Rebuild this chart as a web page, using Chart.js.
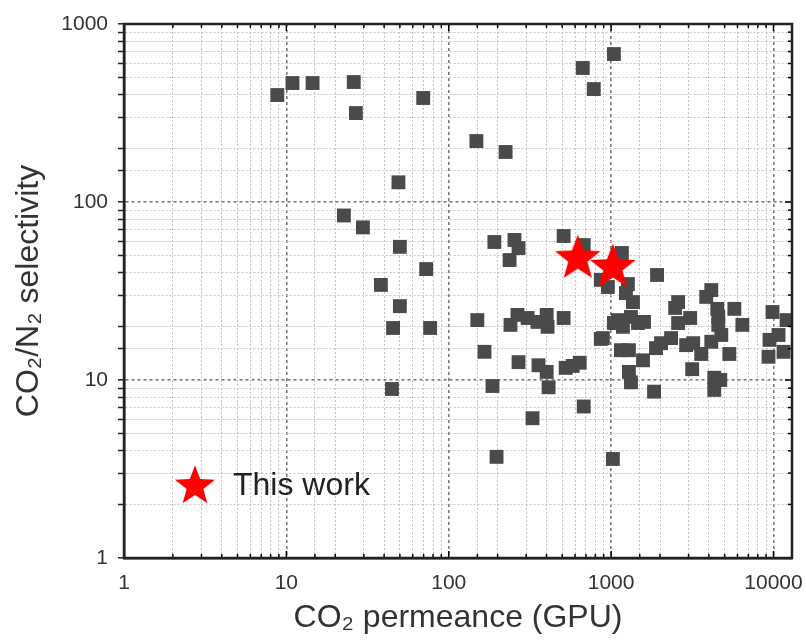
<!DOCTYPE html>
<html>
<head>
<meta charset="utf-8">
<script src="https://cdn.jsdelivr.net/npm/chart.js@4"></script>
<style>
  html, body { margin: 0; padding: 0; background: #fff; }
  #wrap { width: 806px; height: 641px; }
</style>
</head>
<body>
<div id="wrap"><canvas id="chart" width="806" height="641"></canvas></div>
<script>
// Literature membranes: CO2 permeance (GPU) vs CO2/N2 selectivity
const litPermeance = [
  8.8, 10.9, 14.5, 26, 26.8, 69.6, 148, 224, 49, 22.6, 29.6, 38.2, 50, 50, 45.4, 44.7, 72.6, 76.8,
  1040, 669, 782,
  191, 254, 269, 237, 510, 678, 1165, 864, 955, 1269, 1234, 1363,
  150, 265, 240, 306, 352, 401, 406, 510, 1101, 1182, 1040, 1325, 1464, 864,
  166, 269, 357, 401, 525, 580, 641, 1149, 1287, 1287, 1325, 186, 412, 678, 328, 197, 1025,
  1918, 4138, 3853, 2586, 2479, 4506, 5741, 9858, 1070, 1594, 3069, 2586, 4571, 4571, 6432, 12033,
  889, 2340, 2030, 1890, 4770, 4138, 10738, 9447, 2898, 3203, 3587, 5346, 11530, 9314,
  1572, 3157, 4317, 4701, 4317, 1838
];
const litSelectivity = [
  399, 466, 466, 472, 316, 384, 220, 191, 129, 84, 72, 34.2, 56, 26, 19.6, 8.9, 42, 19.6,
  678, 566, 431,
  59.6, 61.2, 55.1, 47.2, 64.4, 57.3, 51.7, 36.5, 33.3, 34.6, 30.8, 27.4,
  21.7, 23.2, 20.4, 22.3, 21.2, 23.2, 19.9, 22.3, 21.7, 19.9, 20.9, 22.6, 20.9, 17,
  14.4, 12.6, 12.1, 11.1, 11.7, 12, 12.5, 14.7, 14.7, 11.1, 9.7, 9.25, 9.1, 7.1, 6.1, 3.7, 3.6,
  38.9, 32, 29.3, 27.4, 25.4, 25.1, 25.1, 24.1, 20.9, 21.2, 22.3, 20.9, 22.6, 20.4, 20.4, 21.7,
  17.2, 17.2, 16.1, 15.1, 17.9, 16.4, 17.9, 16.8, 15.7, 16.1, 14, 14, 14.4, 13.5,
  12.9, 11.5, 10.3, 10, 8.8, 8.6
];

// This work
const thisWorkPermeance = [623, 1025];
const thisWorkSelectivity = [49, 43.7];

const xTickLabels = ['1', '10', '100', '1000', '10000'];
const yTickLabels = ['1', '10', '100', '1000'];

const FONT = "'Liberation Sans', Arial, sans-serif";

function isMajor(v) {
  const l = Math.log10(v);
  return Math.abs(l - Math.round(l)) < 1e-6;
}

// filled red star used as point style
function makeStar(r, color) {
  const c = document.createElement('canvas');
  c.width = c.height = Math.ceil(2 * r + 2);
  const g = c.getContext('2d');
  const cx = c.width / 2, cy = c.height / 2 + r * 0.06;
  g.beginPath();
  for (let i = 0; i < 10; i++) {
    const rad = i % 2 === 0 ? r : r * 0.42;
    const a = -Math.PI / 2 + i * Math.PI / 5;
    g.lineTo(cx + rad * Math.cos(a), cy + rad * Math.sin(a));
  }
  g.closePath();
  g.fillStyle = color;
  g.fill();
  return c;
}
const bigStar = makeStar(24, '#ff0000');
const legendStar = makeStar(21, '#ff0000');

// box around plot with inward ticks on top, right and bottom
const framePlugin = {
  id: 'frame',
  afterDatasetsDraw(chart) {
    const { ctx, chartArea: a, scales } = chart;
    ctx.save();
    ctx.strokeStyle = '#000';
    ctx.lineWidth = 1.5;
    scales.x.ticks.forEach(t => {
      const px = scales.x.getPixelForValue(t.value);
      const len = isMajor(t.value) ? 7 : 4;
      ctx.beginPath();
      ctx.moveTo(px, a.top); ctx.lineTo(px, a.top + len);
      ctx.moveTo(px, a.bottom); ctx.lineTo(px, a.bottom - len);
      ctx.stroke();
    });
    scales.y.ticks.forEach(t => {
      const py = scales.y.getPixelForValue(t.value);
      const len = isMajor(t.value) ? 7 : 4;
      ctx.beginPath();
      ctx.moveTo(a.right, py); ctx.lineTo(a.right - len, py);
      ctx.stroke();
    });
    ctx.lineWidth = 2.5;
    ctx.strokeStyle = '#222';
    ctx.strokeRect(a.left, a.top, a.right - a.left, a.bottom - a.top);
    ctx.restore();
  }
};

// "This work" key inside the plot area
const keyPlugin = {
  id: 'key',
  afterDraw(chart) {
    const { ctx, chartArea: a } = chart;
    const sx = a.left + 71, sy = a.bottom - 73;
    ctx.save();
    ctx.drawImage(legendStar, sx - legendStar.width / 2, sy - legendStar.height / 2);
    ctx.fillStyle = '#222';
    ctx.font = '32px ' + FONT;
    ctx.textBaseline = 'middle';
    ctx.fillText('This work', sx + 38, sy + 1);
    ctx.restore();
  }
};

function gridColor(ctx) {
  if (!ctx.tick) return '#000';
  return isMajor(ctx.tick.value) ? '#7a7a7a' : '#c4c4c4';
}
function gridDash(ctx) {
  if (!ctx.tick) return [];
  return isMajor(ctx.tick.value) ? [3, 3] : [2, 2];
}

new Chart(document.getElementById('chart'), {
  type: 'scatter',
  data: {
    datasets: [
      {
        label: 'This work',
        data: thisWorkPermeance.map((x, i) => ({ x, y: thisWorkSelectivity[i] })),
        pointStyle: bigStar,
        order: 0
      },
      {
        label: 'Literature',
        data: litPermeance.map((x, i) => ({ x, y: litSelectivity[i] })),
        pointStyle: 'rect',
        pointRadius: 9.8,
        backgroundColor: '#4a4a4a',
        borderColor: '#4a4a4a',
        borderWidth: 0,
        order: 1
      }
    ]
  },
  options: {
    responsive: false,
    animation: false,
    layout: { padding: { top: 24, right: 14, left: 0, bottom: 0 } },
    plugins: {
      legend: { display: false },
      tooltip: { enabled: false }
    },
    scales: {
      x: {
        type: 'logarithmic',
        min: 1,
        max: 13000,
        afterFit: s => { s.height = 83; },
        border: { display: true, color: '#222', width: 2.5, dash: gridDash },
        grid: { color: gridColor, lineWidth: c => (c.tick && isMajor(c.tick.value) ? 1.6 : 1), drawTicks: false },
        ticks: {
          autoSkip: false,
          maxRotation: 0,
          padding: 13,
          color: '#333',
          font: { family: FONT, size: 21 },
          callback: v => (xTickLabels.includes(String(v)) ? String(v) : '')
        },
        title: {
          display: true,
          text: 'CO₂ permeance (GPU)',
          color: '#333',
          font: { family: FONT, size: 32 },
          padding: { top: 0, bottom: 4 }
        }
      },
      y: {
        type: 'logarithmic',
        min: 1,
        max: 1000,
        afterFit: s => { s.width = 124; },
        border: { display: true, color: '#222', width: 2.5, dash: gridDash },
        grid: {
          color: gridColor,
          lineWidth: c => (c.tick && isMajor(c.tick.value) ? 1.6 : 1),
          drawTicks: true,
          tickLength: 6,
          tickColor: '#222',
          tickWidth: 1.5
        },
        ticks: {
          autoSkip: false,
          padding: 10,
          color: '#333',
          font: { family: FONT, size: 21 },
          callback: v => (yTickLabels.includes(String(v)) ? String(v) : '')
        },
        title: {
          display: true,
          text: 'CO₂/N₂ selectivity',
          color: '#333',
          font: { family: FONT, size: 32 },
          padding: { top: 10, bottom: 0 }
        }
      }
    }
  },
  plugins: [framePlugin, keyPlugin]
});
</script>
</body>
</html>
